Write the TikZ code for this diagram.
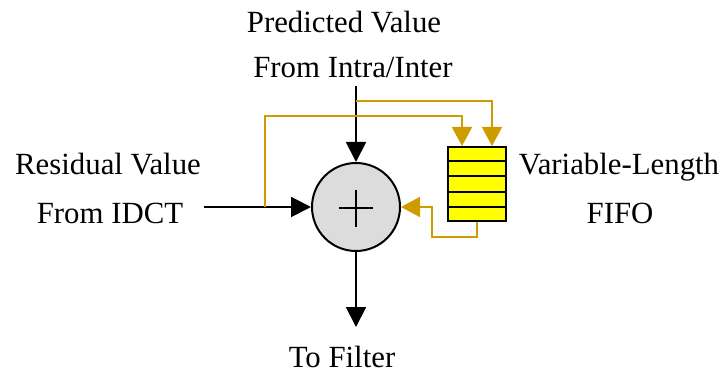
\documentclass[tikz,border=0pt]{standalone}
\usepackage{fontspec}
\setmainfont{Liberation Serif}
\usetikzlibrary{arrows.meta}
\definecolor{gold}{RGB}{207,156,0}
\definecolor{sumgray}{RGB}{220,220,220}
\definecolor{fifoyellow}{RGB}{255,255,0}
\tikzset{
  lbl/.style={anchor=base, inner sep=0pt, font=\fontsize{30.8}{37}\selectfont},
  blackarrow/.style={line width=2pt, -{Triangle[length=20pt,width=20pt]}},
  goldline/.style={draw=gold, line width=1.8pt},
  goldarrow/.style={goldline, -{Triangle[length=19pt,width=20pt]}},
}
\begin{document}
\begin{tikzpicture}[x=1pt,y=-1pt]
\useasboundingbox (0,0) rectangle (725,374);

% adder
\node (sum) [circle, draw, line width=2pt, fill=sumgray, minimum size=88pt, inner sep=0pt] at (356,207) {};
\draw[line width=2pt] (339,207.5) -- (373,207.5) (356,190) -- (356,227);

% variable-length FIFO with five cells
\node (fifo) [draw, line width=2pt, fill=fifoyellow, minimum width=58pt, minimum height=74pt, inner sep=0pt] at (477,184) {};
\foreach \k in {1,2,3,4} {
  \draw[line width=2pt] (448,{146+15.2*\k}) -- (506,{146+15.2*\k});
}

% labels
\node (pred1) [lbl] at (344,33) {Predicted Value};
\node (pred2) [lbl] at (353,78) {From Intra/Inter};
\node (res1) [lbl] at (108,175) {Residual Value};
\node (res2) [lbl] at (110,223) {From IDCT};
\node (var1) [lbl] at (619,175) {Variable-Length};
\node (var2) [lbl] at (620,223) {FIFO};
\node (out) [lbl] at (342,367) {To Filter};

% junction points and free ends
\coordinate (predin) at (356,86);
\coordinate (resin) at (204,207);
\coordinate (sumout) at (356,327);
\coordinate (jpred) at (356,101);
\coordinate (jres) at (265,207);

% main data path
\draw[blackarrow] (predin) -- (sum.north);
\draw[blackarrow] (resin) -- (sum.west);
\draw[blackarrow] (sum.south) -- (sumout);

% FIFO write paths
\draw[goldarrow] (jpred) -- (492,101) -- (492,146);
\draw[goldarrow] (jres) -- (265,116) -- (462,116) -- (462,146);

% FIFO read path back into the adder
\draw[goldarrow] (477,222) -- (477,237) -- (432,237) -- (432,207) -- (sum.east);
\end{tikzpicture}
\end{document}
